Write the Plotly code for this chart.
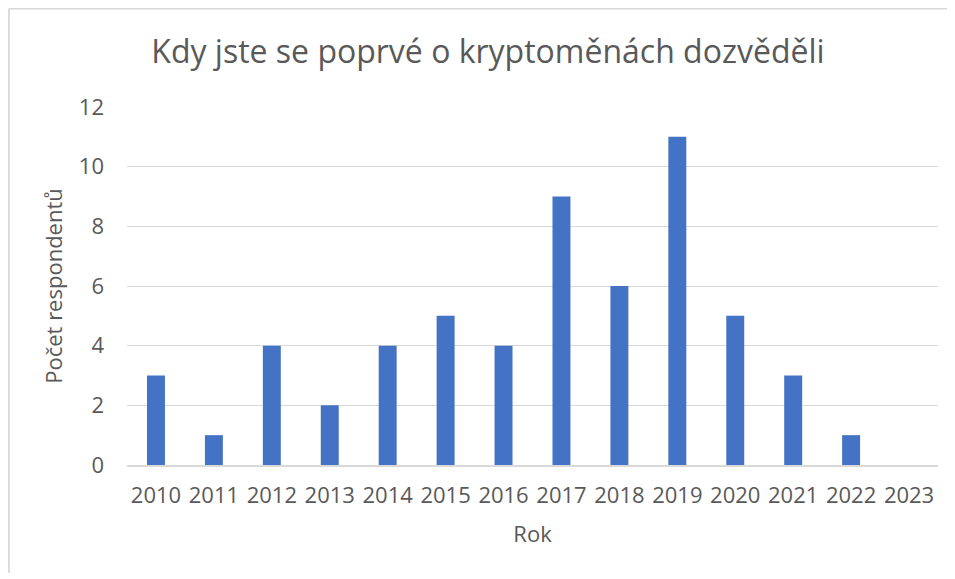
import plotly.graph_objects as go

roky = ["2010", "2011", "2012", "2013", "2014", "2015", "2016",
        "2017", "2018", "2019", "2020", "2021", "2022", "2023"]
pocty = [3, 1, 4, 2, 4, 5, 4, 9, 6, 11, 5, 3, 1, 0]

text_color = "#595959"
grid_color = "#d9d9d9"

fig = go.Figure()
fig.add_bar(x=roky, y=pocty, marker_color="#4472C4", marker_line_width=0)

# page body adds an 8px margin, so keep the figure a bit smaller than the window
fig.update_layout(
    width=940, height=565,
    margin=dict(l=119, r=10, t=99, b=108),
    paper_bgcolor="white", plot_bgcolor="white",
    font=dict(family="Open Sans", color=text_color, size=22),
    bargap=0.69,
    showlegend=False,
    title=dict(text="Kdy jste se poprvé o kryptoměnách dozvěděli",
               x=0.5106, xanchor="center", y=0.922, yanchor="middle",
               font=dict(size=32, color=text_color)),
)
fig.update_xaxes(type="category", showgrid=False, showline=True, linecolor=grid_color,
                 linewidth=1.5, ticks="", ticklabelstandoff=10, tickfont=dict(size=22),
                 title=dict(text="Rok", font=dict(size=22), standoff=18))
fig.update_yaxes(range=[0, 12], dtick=2, showgrid=True, gridcolor=grid_color, gridwidth=1.3,
                 zeroline=False, showline=False, ticks="", ticklabelstandoff=22, tickfont=dict(size=22),
                 title=dict(text="Počet respondentů", font=dict(size=22), standoff=10))

# chart frame (light gray): only top and left edges fall inside the window
frame = dict(type="line", xref="paper", yref="paper", layer="below",
             line=dict(color="#d9d9d9", width=2))
fig.add_shape(**frame, x0=-0.1457, y0=1.275, x1=1.2, y1=1.275)
fig.add_shape(**frame, x0=-0.1457, y0=-0.5, x1=-0.1457, y1=1.275)

fig.write_html("out.html", config={"displayModeBar": False})
